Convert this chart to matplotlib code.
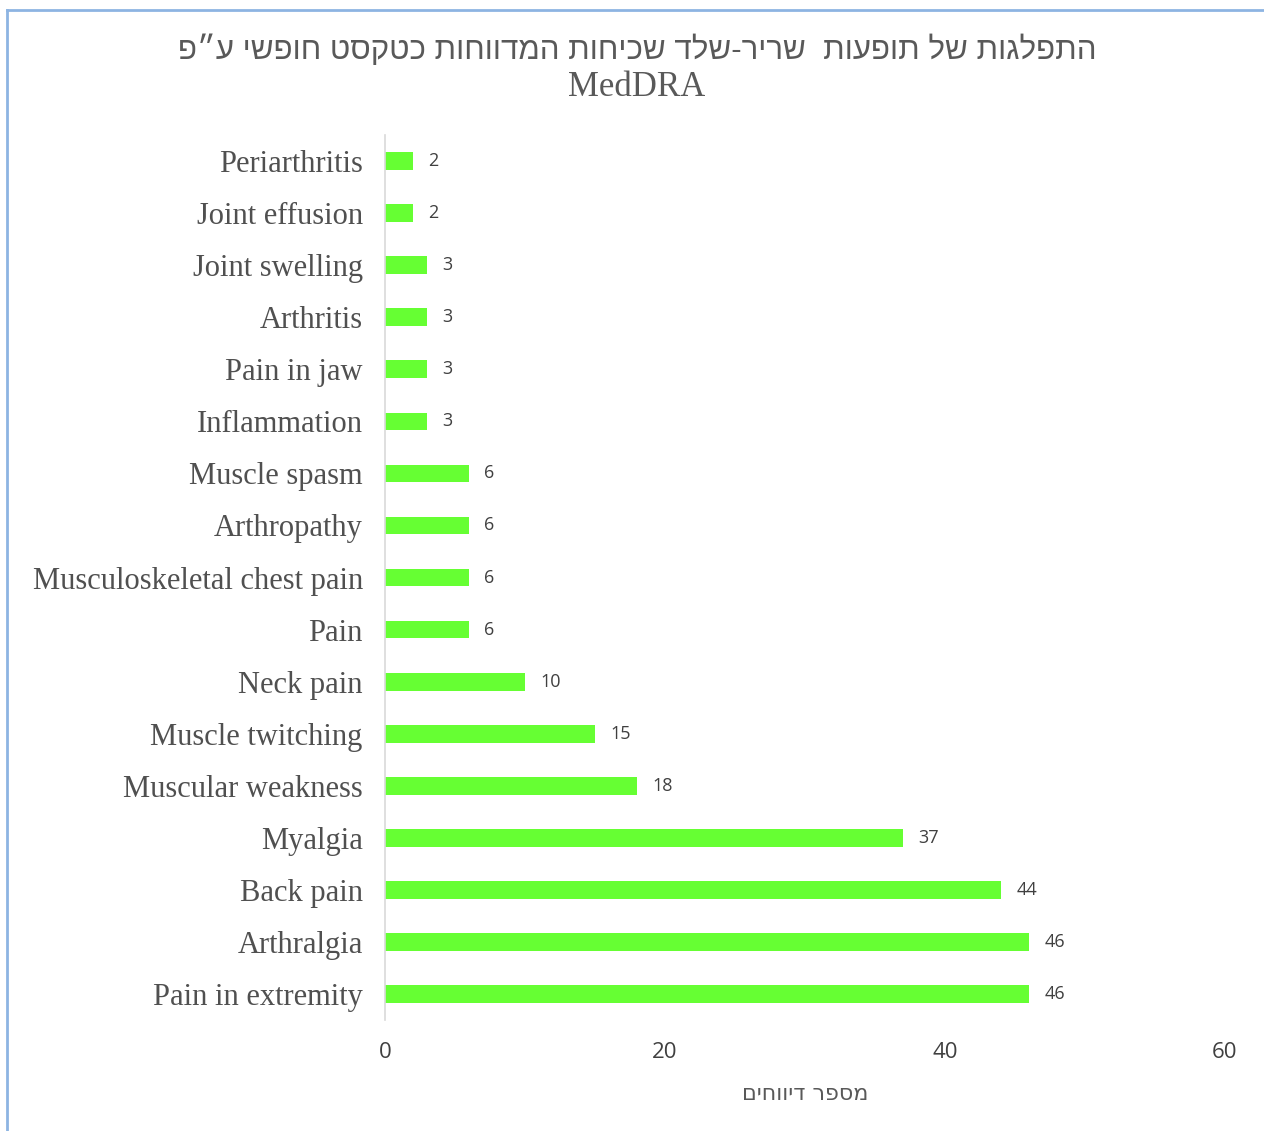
import matplotlib.pyplot as plt
from matplotlib.lines import Line2D

# data (bottom to top as drawn)
categories = ['Pain in extremity', 'Arthralgia', 'Back pain', 'Myalgia',
              'Muscular weakness', 'Muscle twitching', 'Neck pain', 'Pain',
              'Musculoskeletal chest pain', 'Arthropathy', 'Muscle spasm',
              'Inflammation', 'Pain in jaw', 'Arthritis', 'Joint swelling',
              'Joint effusion', 'Periarthritis']
counts = [46, 46, 44, 37, 18, 15, 10, 6, 6, 6, 6, 3, 3, 3, 3, 2, 2]
x_ticks = [0, 20, 40, 60]

title_he = 'התפלגות של תופעות  שריר-שלד שכיחות המדווחות כטקסט חופשי ע״פ'
xlabel_he = 'מספר דיווחים'

# matplotlib has no bidi support, so Hebrew is reversed for display
def rtl(s):
    return s[::-1]

serif = ['Liberation Serif', 'DejaVu Serif']
sans = ['Open Sans', 'DejaVu Sans']

fig = plt.figure(figsize=(12.64, 11.31), dpi=100)
ax = fig.add_axes([0.3046, 0.0981, 0.6645, 0.7825])

ypos = range(len(categories))
ax.barh(ypos, counts, height=0.34, color='#66ff33')
for y, v in zip(ypos, counts):
    ax.text(v + 1.1, y, str(v), va='center', ha='left', fontsize=13,
            color='#404040', family=sans)

ax.set_xlim(0, 60)
ax.set_ylim(-0.5, len(categories) - 0.5)
ax.set_xticks(x_ticks)
ax.set_xticklabels([str(t) for t in x_ticks], family=sans, fontsize=16,
                   color='#404040')
ax.set_yticks(list(ypos))
ax.set_yticklabels(categories, family=serif, fontsize=22, color='#505050')
ax.tick_params(axis='both', length=0)
ax.tick_params(axis='y', pad=16)
ax.tick_params(axis='x', pad=16)

for s in ['top', 'right', 'bottom']:
    ax.spines[s].set_visible(False)
ax.spines['left'].set_color('#d9d9d9')
ax.spines['left'].set_linewidth(1.2)

ax.set_xlabel(rtl(xlabel_he), family=['DejaVu Sans'], fontsize=16,
              color='#595959', labelpad=15)

fig.text(0.504, 0.956, rtl(title_he), ha='center', va='center', fontsize=22.5,
         color='#595959', family=['Liberation Sans', 'DejaVu Sans'])
fig.text(0.504, 0.923, 'MedDRA', ha='center', va='center', fontsize=25,
         color='#595959', family=serif)

# chart frame (left and top edges visible)
fig.add_artist(Line2D([0.0055, 0.0055], [0, 0.991], color='#8db4e2', lw=2,
                      transform=fig.transFigure))
fig.add_artist(Line2D([0.0055, 1], [0.991, 0.991], color='#8db4e2', lw=2,
                      transform=fig.transFigure))

fig.savefig('out.png', dpi=100)
